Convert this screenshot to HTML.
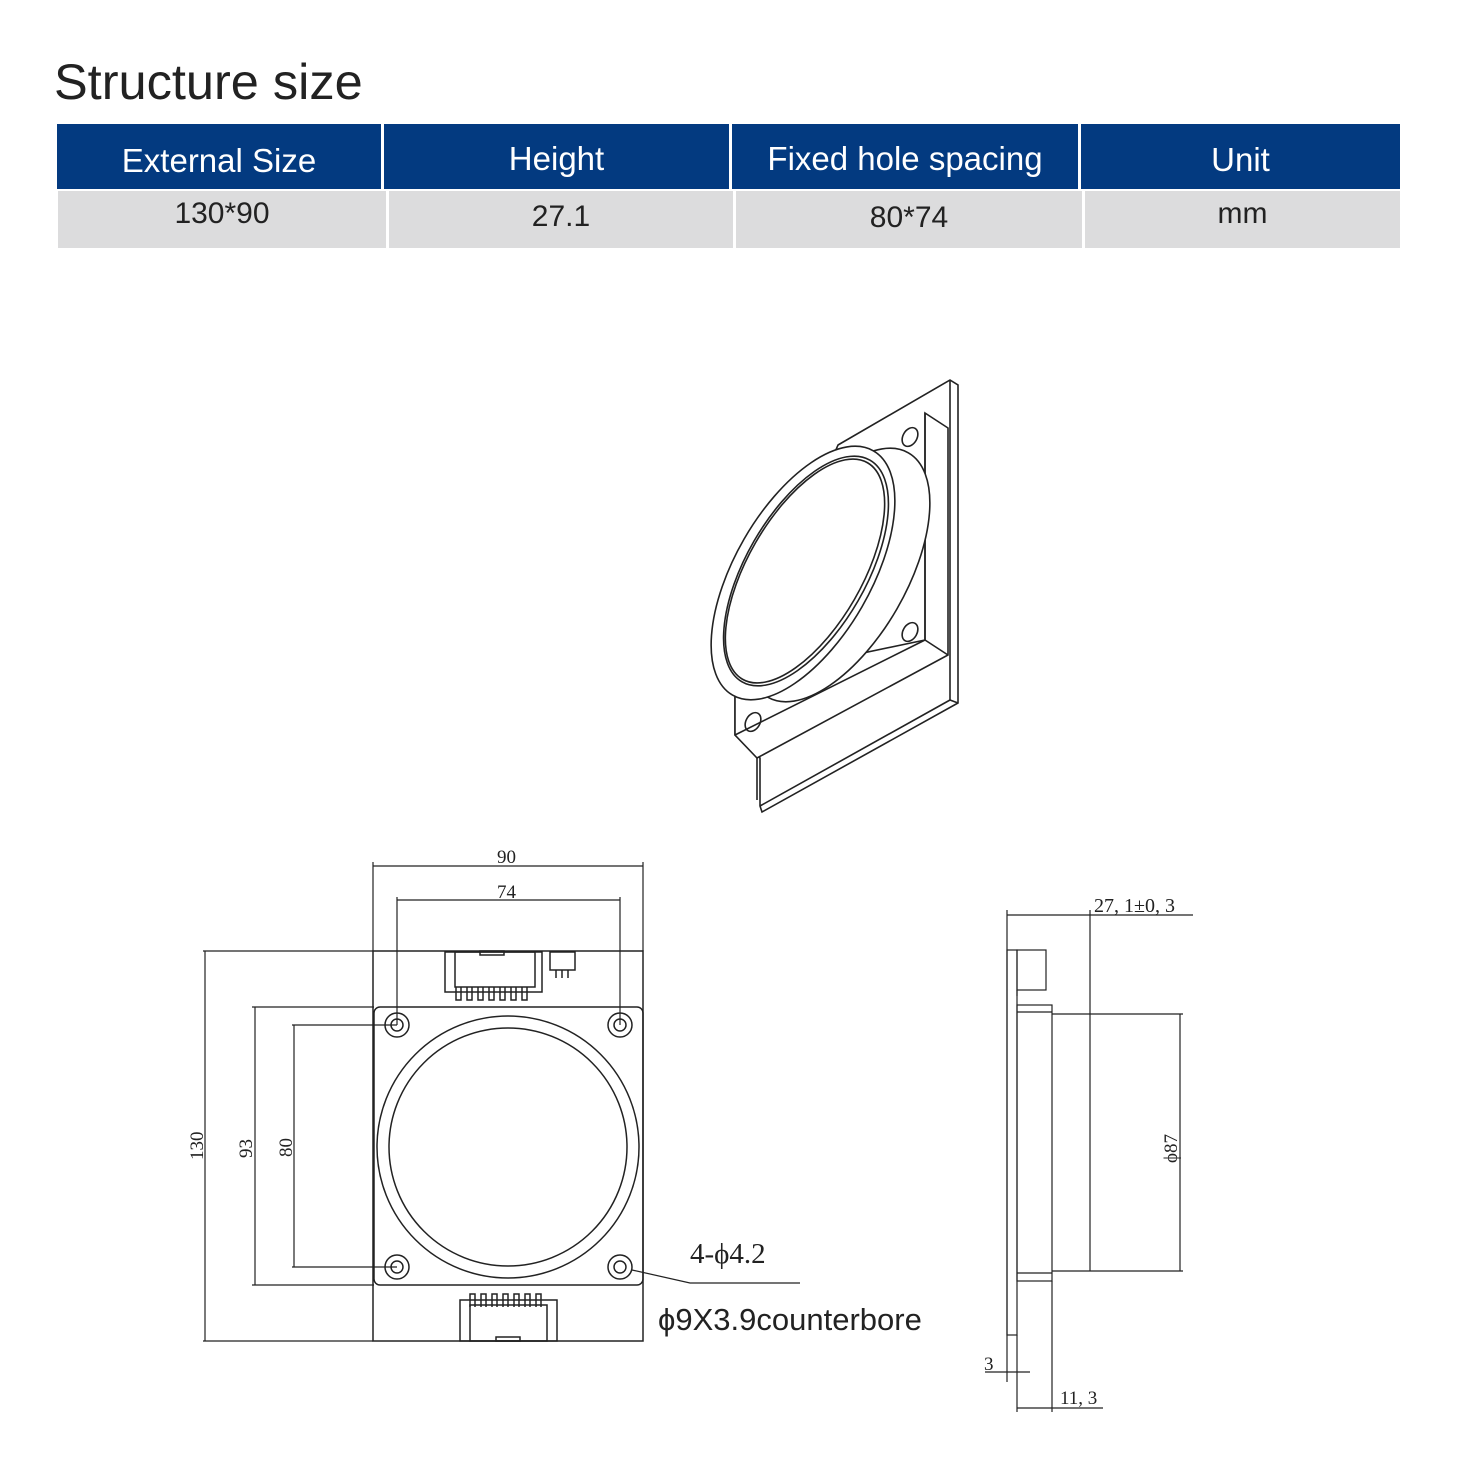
<!DOCTYPE html>
<html><head><meta charset="utf-8"><style>
body{margin:0;background:#fff;width:1464px;height:1470px;position:relative;overflow:hidden;font-family:"Liberation Sans","Noto Sans CJK SC",sans-serif}
.t{position:absolute;white-space:nowrap}
.h{position:absolute;background:#033a80;color:#fff;font-size:33px;text-align:center;top:124px;height:65px;line-height:70px}
.b{position:absolute;background:#dcdcdd;color:#222;font-size:30px;text-align:center;top:191px;height:57px;line-height:46px}
</style></head><body>
<div class="t" style="left:54px;top:52px;font-size:50.5px;color:#222">Structure size</div>
<div class="h" style="left:57px;width:324px;line-height:74px">External Size</div>
<div class="h" style="left:384px;width:345px">Height</div>
<div class="h" style="left:732px;width:346px">Fixed hole spacing</div>
<div class="h" style="left:1081px;width:319px;line-height:72px">Unit</div>
<div class="b" style="left:58px;width:328px">130*90</div>
<div class="b" style="left:389px;width:344px;line-height:52px">27.1</div>
<div class="b" style="left:736px;width:346px;line-height:54px">80*74</div>
<div class="b" style="left:1085px;width:315px">mm</div>

<svg width="1464" height="1470" style="position:absolute;left:0;top:0" fill="none" stroke="#222" stroke-width="1.6">
<!-- 3D view -->
<polygon points="838,445 950,380 958,385 958,703 762,812 760,806 760,758 735,735 735,680" fill="#fff"/>
<line x1="950" y1="380" x2="950" y2="700"/>
<line x1="760" y1="806" x2="950" y2="700"/>
<line x1="950" y1="700" x2="958" y2="703"/>
<polygon points="925,413 948,428 948,655 757,758 735,735 735,680 925,640" fill="#fff"/>
<line x1="925" y1="413" x2="925" y2="640"/>
<line x1="925" y1="640" x2="948" y2="655"/>
<line x1="735" y1="735" x2="925" y2="640"/>
<line x1="757" y1="758" x2="757" y2="800"/>
<ellipse cx="910" cy="437" rx="7" ry="10" transform="rotate(30 910 437)"/>
<ellipse cx="910" cy="632" rx="7" ry="10" transform="rotate(30 910 632)"/>
<ellipse cx="753" cy="722" rx="7" ry="10" transform="rotate(30 753 722)"/>
<ellipse cx="838" cy="575" rx="68" ry="141" transform="rotate(30 838 575)" fill="#fff"/>
<ellipse cx="803" cy="573" rx="68" ry="141" transform="rotate(30 803 573)" fill="#fff"/>
<ellipse cx="806" cy="571" rx="60" ry="128" transform="rotate(30 806 571)"/>
<ellipse cx="805" cy="571" rx="57" ry="125" transform="rotate(30 805 571)"/>

<!-- front view -->
<g stroke-width="1.5">
<rect x="373" y="951" width="270" height="390"/>
<rect x="374" y="1007" width="269" height="278" rx="6"/>
<circle cx="508" cy="1147" r="131"/><circle cx="508" cy="1147" r="119"/>
<circle cx="397" cy="1025" r="12"/><circle cx="397" cy="1025" r="6"/>
<circle cx="620" cy="1025" r="12"/><circle cx="620" cy="1025" r="6"/>
<circle cx="397" cy="1267" r="12"/><circle cx="397" cy="1267" r="6"/>
<circle cx="620" cy="1267" r="12"/><circle cx="620" cy="1267" r="6"/>
<rect x="445" y="952" width="97" height="40"/>
<rect x="455" y="952" width="80" height="35"/>
<rect x="480" y="951" width="24" height="4"/>
<rect x="550" y="952" width="25" height="18"/>
<path d="M556 970v8M562 970v8M568 970v8"/>
<path d="M456 987v13h5v-13M467 987v13h5v-13M478 987v13h5v-13M489 987v13h5v-13M500 987v13h5v-13M511 987v13h5v-13M522 987v13h5v-13"/>
<rect x="460" y="1300" width="97" height="41"/>
<rect x="470" y="1305" width="77" height="36"/>
<rect x="496" y="1337" width="24" height="4"/>
<path d="M470 1307v-13h5v13M481 1307v-13h5v13M492 1307v-13h5v13M503 1307v-13h5v13M514 1307v-13h5v13M525 1307v-13h5v13M536 1307v-13h5v13"/>
</g>
<g stroke-width="1.2">
<path d="M373 862V951M643 862V951M373 866H643"/>
<path d="M397 897V1025M620 897V1025M397 900H620"/>
<path d="M203 951H373M203 1341H373M205 951V1341"/>
<path d="M252 1007H374M252 1285H374M255 1007V1285"/>
<path d="M292 1025H397M292 1267H397M294 1025V1267"/>
<path d="M632 1270L690 1283H800"/>
<!-- side view -->
<path d="M1007 910V1382M1007 915H1090M1090 910V1014M1090 915H1193"/>
<rect x="1007" y="950" width="10" height="385"/>
<rect x="1017" y="950" width="29" height="40"/>
<rect x="1017" y="1005" width="35" height="276"/>
<path d="M1017 1012H1052M1017 1273H1052"/>
<path d="M1052 1014H1183M1052 1271H1183M1090 1014V1271M1180 1014V1271"/>
<path d="M1017 1335V1412M1052 1281V1412M985 1372H1030M1017 1408H1052H1103"/>
<path d="M1017 990v6"/>
</g>
<g fill="#222" stroke="none" font-family="Liberation Serif,serif">
<text x="497" y="863" font-size="19">90</text>
<text x="497" y="898" font-size="19">74</text>
<text transform="translate(203 1160) rotate(-90)" font-size="19">130</text>
<text transform="translate(252 1158) rotate(-90)" font-size="19">93</text>
<text transform="translate(292 1157) rotate(-90)" font-size="19">80</text>
<text x="690" y="1263" font-size="29">4-ϕ4.2</text>
<text x="1094" y="912" font-size="20">27, 1±0, 3</text>
<text transform="translate(1177 1163) rotate(-90)" font-size="19">ϕ87</text>
<text x="984" y="1370" font-size="19">3</text>
<text x="1060" y="1404" font-size="19">11, 3</text>
</g>
<text x="658" y="1330" font-size="31" fill="#222" stroke="none" font-family="Liberation Sans,sans-serif">ϕ9X3.9counterbore</text>
</svg>
</body></html>
